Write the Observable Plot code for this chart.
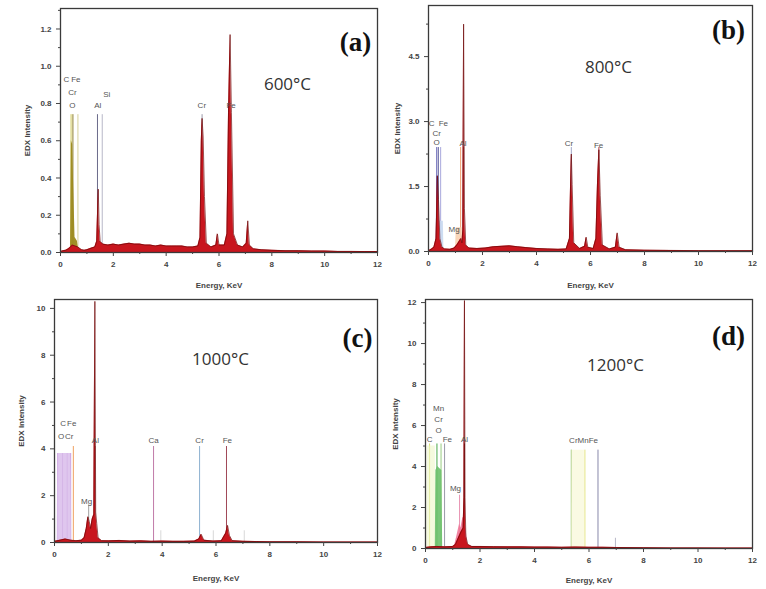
<!DOCTYPE html>
<html><head><meta charset="utf-8">
<script src="https://cdn.jsdelivr.net/npm/d3@7"></script>
<script src="https://cdn.jsdelivr.net/npm/@observablehq/plot@0.6"></script>
<style>
body{margin:0;background:#fff;}
#wrap{position:relative;width:766px;height:589px;overflow:hidden;font-family:"Liberation Sans",Arial,sans-serif;}
.panel{position:absolute;}
</style></head><body><div id="wrap"></div>
<script>
// ---------- shared ticks ----------
const ticksX = [0, 2, 4, 6, 8, 10, 12];
const minorX = [1, 3, 5, 7, 9, 11];

// ---------- panel (a) 600°C ----------
const spectrumA = [[0,0.005],[0.1,0.01],[0.2,0.012],[0.3,0.02],[0.38,0.03],[0.45,0.04],[0.55,0.035],[0.65,0.03],[0.8,0.015],[0.9,0.012],[1.0,0.015],[1.1,0.02],[1.2,0.025],[1.3,0.03],[1.37,0.06],[1.41,0.25],[1.43,0.34],[1.46,0.15],[1.5,0.06],[1.6,0.045],[1.8,0.04],[2.0,0.045],[2.2,0.04],[2.4,0.045],[2.6,0.05],[2.8,0.045],[3.0,0.045],[3.2,0.04],[3.4,0.04],[3.6,0.035],[3.8,0.04],[4.0,0.035],[4.2,0.035],[4.4,0.035],[4.6,0.035],[4.8,0.03],[5.0,0.03],[5.2,0.035],[5.28,0.08],[5.33,0.6],[5.36,0.72],[5.40,0.62],[5.45,0.3],[5.52,0.05],[5.7,0.03],[5.88,0.04],[5.94,0.1],[6.0,0.04],[6.2,0.04],[6.3,0.1],[6.36,0.75],[6.42,1.17],[6.47,0.75],[6.55,0.1],[6.7,0.04],[6.9,0.03],[7.03,0.05],[7.09,0.17],[7.15,0.04],[7.3,0.02],[7.6,0.015],[8.0,0.012],[8.5,0.01],[9.0,0.01],[9.5,0.008],[10.0,0.008],[10.5,0.006],[11.0,0.006],[11.5,0.005],[12.0,0.005]];
const peakO_A = [[0.38,0.02],[0.41,0.6],[0.46,0.58],[0.5,0.35],[0.55,0.08],[0.64,0.06],[0.68,0.02]];
const elementsA = [["C",0.40,0.74],["O",0.47,0.74],["Fe",0.66,0.74],["Al",1.40,0.74],["Si",1.58,0.74],["Cr",5.36,0.74],["Fe",6.43,0.74]];
const labelsA = [["C",0.22,0.93],["Fe",0.58,0.93],["Cr",0.45,0.86],["O",0.45,0.79],["Al",1.41,0.79],["Si",1.75,0.85],["Cr",5.35,0.79],["Fe",6.46,0.79]];
const ticksYA = [0, 0.2, 0.4, 0.6, 0.8, 1.0, 1.2];
const minorYA = [0.1, 0.3, 0.5, 0.7, 0.9, 1.1, 1.3];

// ---------- panel (b) 800°C ----------
const spectrumB = [[0,0.02],[0.1,0.05],[0.2,0.1],[0.28,0.3],[0.33,1.75],[0.37,1.2],[0.42,0.3],[0.5,0.1],[0.6,0.06],[0.8,0.05],[0.95,0.08],[1.05,0.15],[1.15,0.25],[1.2,0.3],[1.24,0.2],[1.27,0.5],[1.30,5.25],[1.33,1.0],[1.38,0.15],[1.5,0.08],[1.8,0.07],[2.1,0.08],[2.4,0.11],[2.7,0.12],[3.0,0.13],[3.3,0.11],[3.6,0.09],[4.0,0.07],[4.4,0.06],[4.8,0.05],[5.1,0.06],[5.22,0.3],[5.26,1.5],[5.29,2.25],[5.32,1.55],[5.38,0.2],[5.6,0.07],[5.78,0.12],[5.84,0.33],[5.9,0.1],[6.1,0.07],[6.2,0.3],[6.26,1.6],[6.31,2.35],[6.36,1.3],[6.44,0.15],[6.7,0.06],[6.92,0.1],[6.99,0.43],[7.06,0.1],[7.3,0.04],[8,0.03],[9,0.025],[10,0.02],[11,0.02],[12,0.02]];
const peakO_B = [[0.28,0.05],[0.31,1.75],[0.36,1.7],[0.39,0.2],[0.42,0.05]];
const peakFeL_B = [[0.4,0.05],[0.42,0.7],[0.55,0.7],[0.57,0.05]];
const peakMg_B = [[1.0,0.05],[1.03,0.55],[1.25,0.55],[1.27,0.05]];
const elementsB = [["C",0.30,2.4],["O",0.36,2.4],["Fe",0.45,2.4],["Mg",1.19,2.4],["Al",1.30,2.4],["Cr",5.29,2.4],["Fe",6.31,2.4]];
const labelsB = [["C",0.12,2.95],["Fe",0.55,2.95],["Cr",0.3,2.73],["O",0.3,2.52],["Al",1.28,2.5],["Mg",0.95,0.5],["Cr",5.2,2.5],["Fe",6.3,2.45]];
const ticksYB = [0, 1.5, 3.0, 4.5];
const minorYB = [0.75, 2.25, 3.75, 5.25];

// ---------- panel (c) 1000°C ----------
const spectrumC = [[0,0.05],[0.2,0.1],[0.4,0.15],[0.6,0.1],[0.8,0.08],[1.0,0.1],[1.1,0.2],[1.18,0.6],[1.24,1.1],[1.29,0.9],[1.34,0.6],[1.4,1.0],[1.46,1.2],[1.50,10.3],[1.53,1.3],[1.57,0.8],[1.62,0.2],[1.75,0.08],[2.0,0.07],[2.4,0.09],[2.8,0.06],[3.2,0.07],[3.6,0.05],[4.0,0.06],[4.4,0.05],[4.8,0.05],[5.2,0.06],[5.36,0.15],[5.45,0.35],[5.55,0.1],[5.9,0.06],[6.2,0.08],[6.36,0.4],[6.43,0.73],[6.5,0.3],[6.6,0.08],[7.0,0.05],[7.5,0.04],[8,0.03],[9,0.03],[10,0.02],[11,0.02],[12,0.02]];
const peakLow_C = [[0.1,0.05],[0.12,3.8],[0.62,3.8],[0.64,0.05]];
const elementsC = [["C",0.12,3.8],["O",0.3,3.8],["O",0.47,3.8],["Cr",0.6,3.8],["Fe",0.7,4.1],["Mg",1.27,1.6],["Al",1.5,4.1],["Ca",3.68,4.1],["Ca Kβ",3.95,0.5],["Cr",5.39,4.1],["Cr Kβ",5.9,0.5],["Fe",6.39,4.1],["Fe Kβ",7.05,0.5]];
const labelsC = [["C",0.32,5.1],["Fe",0.64,5.1],["O",0.25,4.55],["Cr",0.55,4.55],["Mg",1.19,1.75],["Al",1.52,4.35],["Ca",3.68,4.35],["Cr",5.39,4.35],["Fe",6.42,4.35]];
const ticksYC = [0, 2, 4, 6, 8, 10];
const minorYC = [1, 3, 5, 7, 9];

// ---------- panel (d) 1200°C ----------
const spectrumD = [[0,0.05],[0.2,0.08],[0.4,0.1],[0.7,0.08],[1.0,0.1],[1.1,0.2],[1.2,0.5],[1.3,0.8],[1.38,1.0],[1.41,2.5],[1.43,12.1],[1.45,2.5],[1.48,0.6],[1.55,0.2],[1.7,0.1],[2.0,0.1],[2.5,0.09],[3.0,0.08],[3.5,0.08],[4.0,0.07],[4.5,0.07],[5.0,0.06],[5.5,0.07],[6.0,0.06],[6.5,0.06],[7.0,0.05],[8,0.04],[9,0.03],[10,0.03],[11,0.02],[12,0.02]];
const peakC_D = [[0.05,0.05],[0.07,5.0],[0.36,5.0],[0.38,0.05]];
const peakO_D = [[0.36,0.1],[0.38,3.8],[0.45,4.0],[0.52,3.9],[0.6,3.8],[0.63,0.1]];
const peakMg_D = [[1.05,0.05],[1.15,0.6],[1.25,1.2],[1.3,1.0],[1.37,1.5],[1.42,1.5],[1.5,0.8],[1.56,0.1]];
const peakK_D = [[5.35,0.05],[5.37,4.8],[5.83,4.8],[5.85,0.05]];
const elementsD = [["C",0.15,5.1],["O",0.42,5.1],["Cr",0.57,5.1],["Fe",0.7,5.1],["Mg",1.25,2.6],["Al",1.43,5.1],["Cr",5.35,4.8],["Mn",5.85,4.8],["Fe",6.33,4.8],["Fe Kβ",6.97,0.5]];
const labelsD = [["Mn",0.48,6.85],["Cr",0.48,6.3],["O",0.48,5.78],["C",0.15,5.3],["Fe",0.8,5.3],["Al",1.43,5.3],["Mg",1.1,2.95],["CrMnFe",5.8,5.25]];
const ticksYD = [0, 2, 4, 6, 8, 10, 12];
const minorYD = [1, 3, 5, 7, 9, 11];

// ---------- styles / layout ----------
const panels = [
  {id:"(a)", temp:"600°C", spectrum:spectrumA, elements:elementsA, labels:labelsA, ticksY:ticksYA, minorY:minorYA, fmt:".1f", ymax:1.31,
   fills:[{data:peakO_A, color:"#9c8a1e", op:0.95}],
   lineColors:["#cfc75a","#8d7d2a","#d6d09a","#6a6a8a","#b8b8c8","#9a9aaa","#7a5060"],
   box:{left:0, top:0, width:385, height:295, ml:60, mr:8, mt:8, mb:43}, idPos:[-22,23], tempPos:[-90,69], xlabOff:35, ylabOff:36},
  {id:"(b)", temp:"800°C", spectrum:spectrumB, elements:elementsB, labels:labelsB, ticksY:ticksYB, minorY:minorYB, fmt:".1f", ymax:5.68,
   fills:[{data:peakFeL_B, color:"#c8d8f0", op:0.9},{data:peakMg_B, color:"#f8d0b0", op:0.9},{data:peakO_B, color:"#5a5ab4", op:0.95}],
   lineColors:["#7878c0","#4a4a90","#a8a8dc","#f0a070","#806868","#a0a8c8","#b04050"],
   box:{left:385, top:0, width:381, height:295, ml:43, mr:14, mt:5, mb:44}, idPos:[-24,14], tempPos:[-144,55], xlabOff:36, ylabOff:34},
  {id:"(c)", temp:"1000°C", spectrum:spectrumC, elements:elementsC, labels:labelsC, ticksY:ticksYC, minorY:minorYC, fmt:"d", ymax:10.38,
   fills:[{data:peakLow_C, color:"#dcc0ec", op:0.9}],
   lineColors:["#b070d0","#9050b0","#a060c0","#b878d0","#f0a060","#a0a0a0","#703838","#c07aa8","#d8d8d8","#8cb0d0","#d8d8d8","#a04858","#d8d8d8"],
   box:{left:0, top:290, width:385, height:299, ml:54, mr:8, mt:9, mb:47}, idPos:[-20,28], tempPos:[-157,53], xlabOff:38, ylabOff:36},
  {id:"(d)", temp:"1200°C", spectrum:spectrumD, elements:elementsD, labels:labelsD, ticksY:ticksYD, minorY:minorYD, fmt:"d", ymax:12.15,
   fills:[{data:peakC_D, color:"#eef6c8", op:0.6},{data:peakK_D, color:"#f6f6d0", op:0.6},{data:peakO_D, color:"#6cc06c", op:0.9},{data:peakMg_D, color:"#f07898", op:0.9}],
   lineColors:["#d8e070","#48a848","#98cc80","#9a9aa8","#e890b0","#5a2a2a","#90c070","#e4e480","#8888aa","#b8b8c8"],
   box:{left:385, top:290, width:381, height:299, ml:40, mr:14, mt:9, mb:41}, idPos:[-24,26], tempPos:[-137,59], xlabOff:34, ylabOff:33}
];

const wrap = document.getElementById("wrap");

for (const p of panels) {
  const b = p.box;
  const spec = p.spectrum.map(([e, v]) => ({e, v}));
  const lines = p.elements.map(([el, e, h], i) => ({el, e, h, c: p.lineColors[i]}));
  const labs = p.labels.map(([t, x, y]) => ({t, x, y}));
  const marks = [
    Plot.ruleX(lines, {x:"e", y1:0, y2:"h", stroke:"c", strokeWidth:1}),
    ...p.fills.map(f => Plot.areaY(f.data.map(([e, v]) => ({e, v})), {x:"e", y:"v", fill:f.color, fillOpacity:f.op, clip:true})),
    Plot.areaY(spec, {x:"e", y:"v", fill:"#c8161e", clip:true}),
    Plot.lineY(spec, {x:"e", y:"v", stroke:"#6e0808", strokeWidth:0.7, clip:true}),
    Plot.text(labs, {x:"x", y:"y", text:"t", fontSize:8, fill:"#555", fontFamily:"Liberation Sans"}),
    Plot.frame({stroke:"#3a3a3a", strokeWidth:1.3}),
    Plot.axisX(ticksX, {tickSize:4, tickFormat:d => d, label:"Energy, KeV", labelAnchor:"center", labelOffset:p.xlabOff, labelArrow:"none", fontSize:8, fontWeight:"bold", color:"#444"}),
    Plot.axisX(minorX, {tickSize:2, tickFormat:() => "", label:null, color:"#444"}),
    Plot.axisY(p.ticksY, {tickSize:4, tickFormat:d3.format(p.fmt), label:"EDX Intensity", labelAnchor:"center", labelOffset:p.ylabOff, labelArrow:"none", fontSize:8, fontWeight:"bold", color:"#444"}),
    Plot.axisY(p.minorY.filter(v => v <= p.ymax), {tickSize:2, tickFormat:() => "", label:null, color:"#444"}),
    Plot.text([p.id], {frameAnchor:"top-right", dx:p.idPos[0], dy:p.idPos[1], text:d => d, fontFamily:"Liberation Serif", fontWeight:"bold", fontSize:27, fill:"#111", textAnchor:"middle"}),
    Plot.text([p.temp], {frameAnchor:"top-right", dx:p.tempPos[0], dy:p.tempPos[1], text:d => d, fontFamily:"Open Sans", fontSize:17, fill:"#333", textAnchor:"middle"})
  ];
  const svg = Plot.plot({
    width:b.width, height:b.height,
    marginLeft:b.ml, marginRight:b.mr, marginTop:b.mt, marginBottom:b.mb,
    x:{domain:[0,12]}, y:{domain:[0,p.ymax]},
    color:{type:"identity"},
    style:{fontFamily:"Liberation Sans", background:"transparent", overflow:"visible"},
    marks
  });
  const div = document.createElement("div");
  div.className = "panel";
  div.style.left = b.left + "px";
  div.style.top = b.top + "px";
  div.appendChild(svg);
  wrap.appendChild(div);
}
</script>
</body></html>
